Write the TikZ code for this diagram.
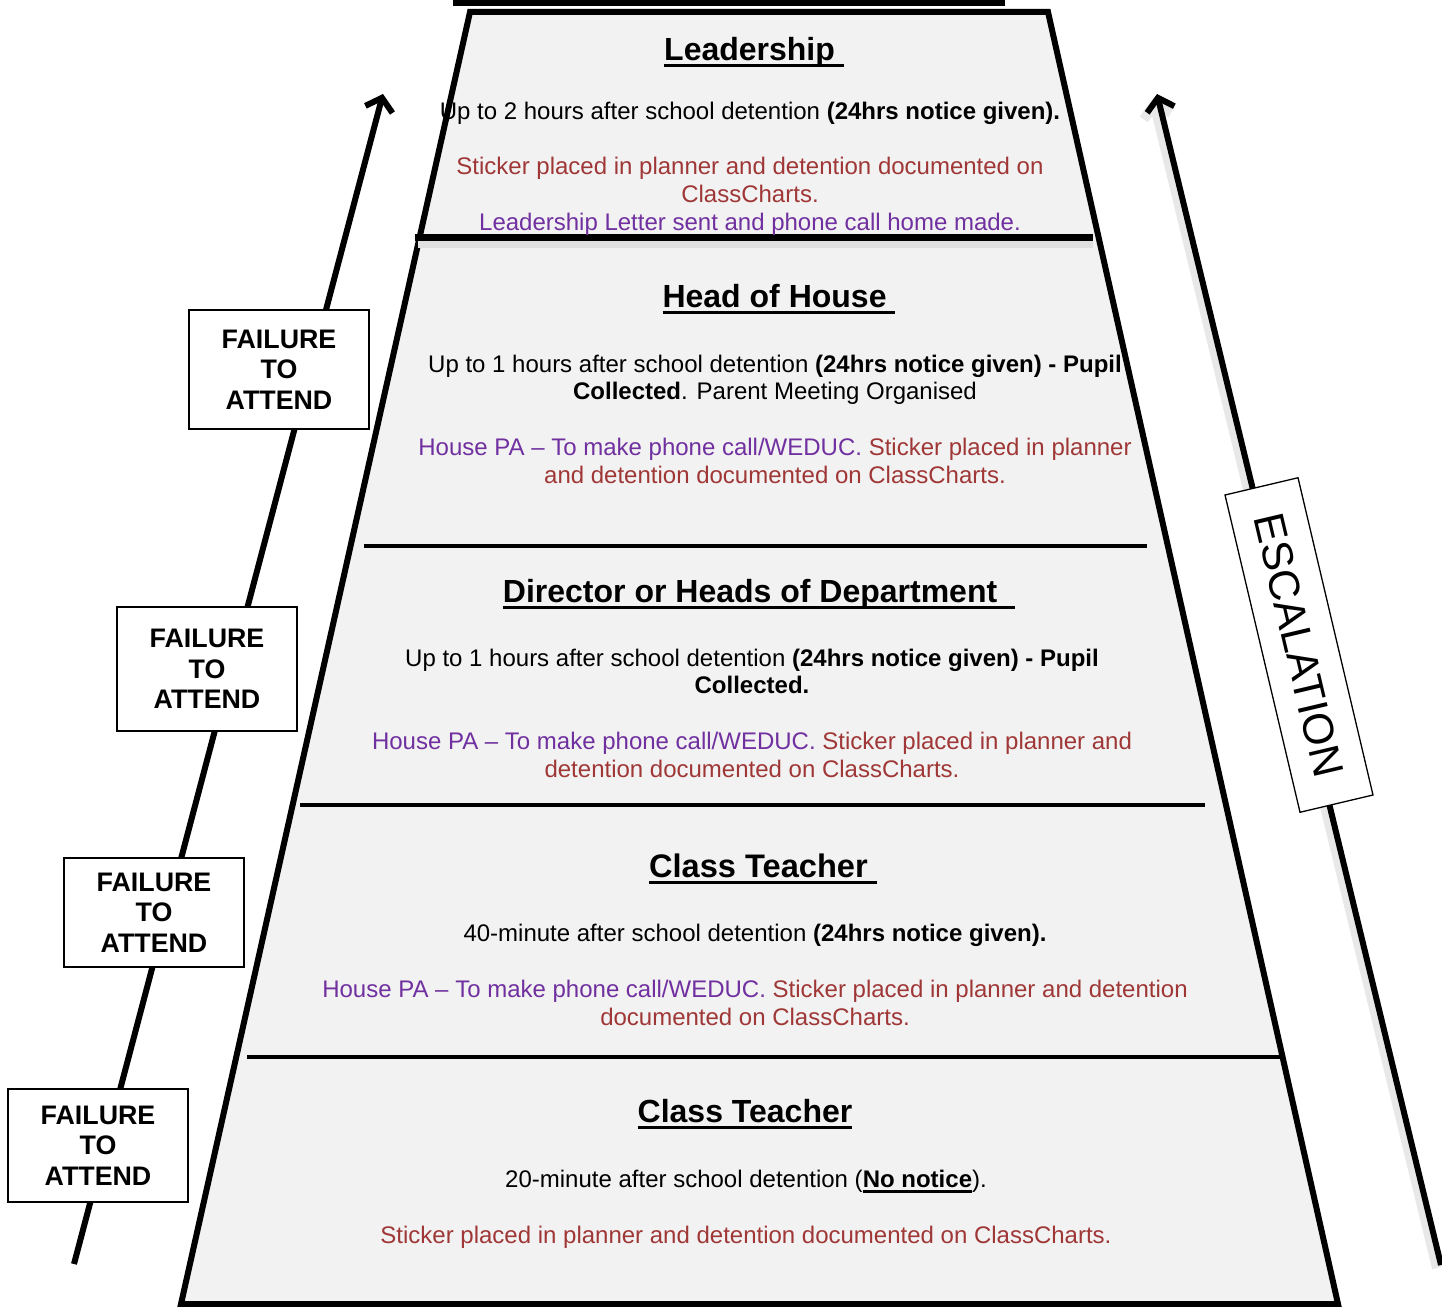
\documentclass[tikz,border=0pt]{standalone}
\usepackage{fontspec}
\setmainfont{Liberation Sans}
\usepackage{xcolor}
\usepackage{tikz}
\usetikzlibrary{arrows.meta}
\definecolor{stickerred}{RGB}{160,55,55}
\definecolor{papurple}{RGB}{112,48,160}
\definecolor{tiergray}{RGB}{242,242,242}
% underline with own depth and thickness
\newcommand{\ulbox}[3]{\setbox0\hbox{#3}\rlap{\rule[-#1]{\wd0}{#2}}\box0}
\tikzstyle{tier} = [line width=6pt, fill=tiergray, line join=miter]
\tikzstyle{divider} = [line width=4pt]
\tikzstyle{title} = [font=\fontsize{32}{38}\selectfont\bfseries, anchor=base, inner sep=0pt]
\tikzstyle{body} = [font=\fontsize{24}{27.7}\selectfont, align=center, anchor=base, inner sep=0pt]
\tikzstyle{failbox} = [draw, line width=1.3pt, fill=white, align=center,
	font=\fontsize{26.8}{30.5}\selectfont\bfseries, minimum width=180pt, inner sep=0pt]
\tikzstyle{escarrow} = [line width=6pt, -{Straight Barb[length=12pt,width=28pt]}]

\begin{document}
\begin{tikzpicture}[x=1pt,y=-1pt]
	\useasboundingbox (0,0) rectangle (1442,1306);

	% arrows at the sides
	\coordinate (lstart) at (74,1264);
	\coordinate (ltip) at (383,94);
	\coordinate (rstart) at (1441,1265);
	\coordinate (rtip) at (1157,94);
	\coordinate (rshstart) at (1437,1268);
	\coordinate (rshtip) at (1153,98);
	\draw[escarrow] (lstart) -- (ltip);
	\draw[escarrow, black!9, line width=10pt] (rshstart) -- (rshtip);
	\draw[escarrow] (rstart) -- (rtip);

	% the steps
	\draw[line width=7pt] (453,3) -- (1005,3);
	\draw[tier] (470,12) -- (1048,12) -- (1338,1304) -- (181,1304) -- cycle;
	\draw[line width=8pt, black!12] (418,244) -- (1093,244);
	\draw[line width=7pt] (415,237) -- (1093,237);
	\foreach \y/\xa/\xb in {546/364/1147, 805/300/1205, 1057/247/1281}
	{
		\draw[divider] (\xa,\y) -- (\xb,\y);
	}

	% Leadership (body nodes sit on their last baseline)
	\node[title] (leadT) at (754,60) {\ulbox{7pt}{3pt}{Leadership\ }};
	\node[body] (leadB) at (750,230) {Up to 2 hours after school detention \textbf{(24hrs notice given).}\\[27.7pt]
		\textcolor{stickerred}{Sticker placed in planner and detention documented on}\\
		\textcolor{stickerred}{ClassCharts.}\\
		\textcolor{papurple}{Leadership Letter sent and phone call home made.}};

	% Head of House
	\node[title] (houseT) at (779,307) {\ulbox{7pt}{3pt}{Head of House\ }};
	\node[body] (houseB) at (775,483) {Up to 1 hours after school detention \textbf{(24hrs notice given) - Pupil}\\
		\textbf{Collected}. Parent Meeting Organised\\[27.7pt]
		\textcolor{papurple}{House PA – To make phone call/WEDUC.} \textcolor{stickerred}{Sticker placed in planner}\\
		\textcolor{stickerred}{and detention documented on ClassCharts.}};

	% Director or Heads of Department
	\node[title] (deptT) at (759,602) {\ulbox{7pt}{3pt}{Director or Heads of Department\ \ }};
	\node[body] (deptB) at (752,777) {Up to 1 hours after school detention \textbf{(24hrs notice given) - Pupil}\\
		\textbf{Collected.}\\[27.7pt]
		\textcolor{papurple}{House PA – To make phone call/WEDUC.} \textcolor{stickerred}{Sticker placed in planner and}\\
		\textcolor{stickerred}{detention documented on ClassCharts.}};

	% Class Teacher, 40 minutes
	\node[title] (teachT) at (763,877) {\ulbox{7pt}{3pt}{\fontsize{32.6}{38}\selectfont Class Teacher\ }};
	\node[body] (teachB) at (755,1025) {40-minute after school detention \textbf{(24hrs notice given).}\\[27.7pt]
		\textcolor{papurple}{House PA – To make phone call/WEDUC.} \textcolor{stickerred}{Sticker placed in planner and detention}\\
		\textcolor{stickerred}{documented on ClassCharts.}};

	% Class Teacher, 20 minutes
	\node[title] (classT) at (745,1122) {\ulbox{7pt}{3pt}{Class Teacher}};
	\node[body] (classB) at (746,1243) {20-minute after school detention (\textbf{\ulbox{5pt}{2.5pt}{No notice}}).\\[27.7pt]
		\textcolor{stickerred}{Sticker placed in planner and detention documented on ClassCharts.}};

	% failure boxes on the left arrow
	\foreach \n/\x/\y/\h in {1/279/370.5/119, 2/207/670/124, 3/154/913.5/109, 4/98/1146.5/113}
	{
		\node[failbox, minimum height=\h pt] (fail\n) at (\x,\y-1) {FAILURE\\TO\\ATTEND};
	}

	\node[draw, line width=1.3pt, fill=white, rotate=-76.7, minimum width=326pt, minimum height=75pt,
		font=\fontsize{43}{50}\selectfont] (escal) at (1299,645) {ESCALATION};
\end{tikzpicture}
\end{document}
